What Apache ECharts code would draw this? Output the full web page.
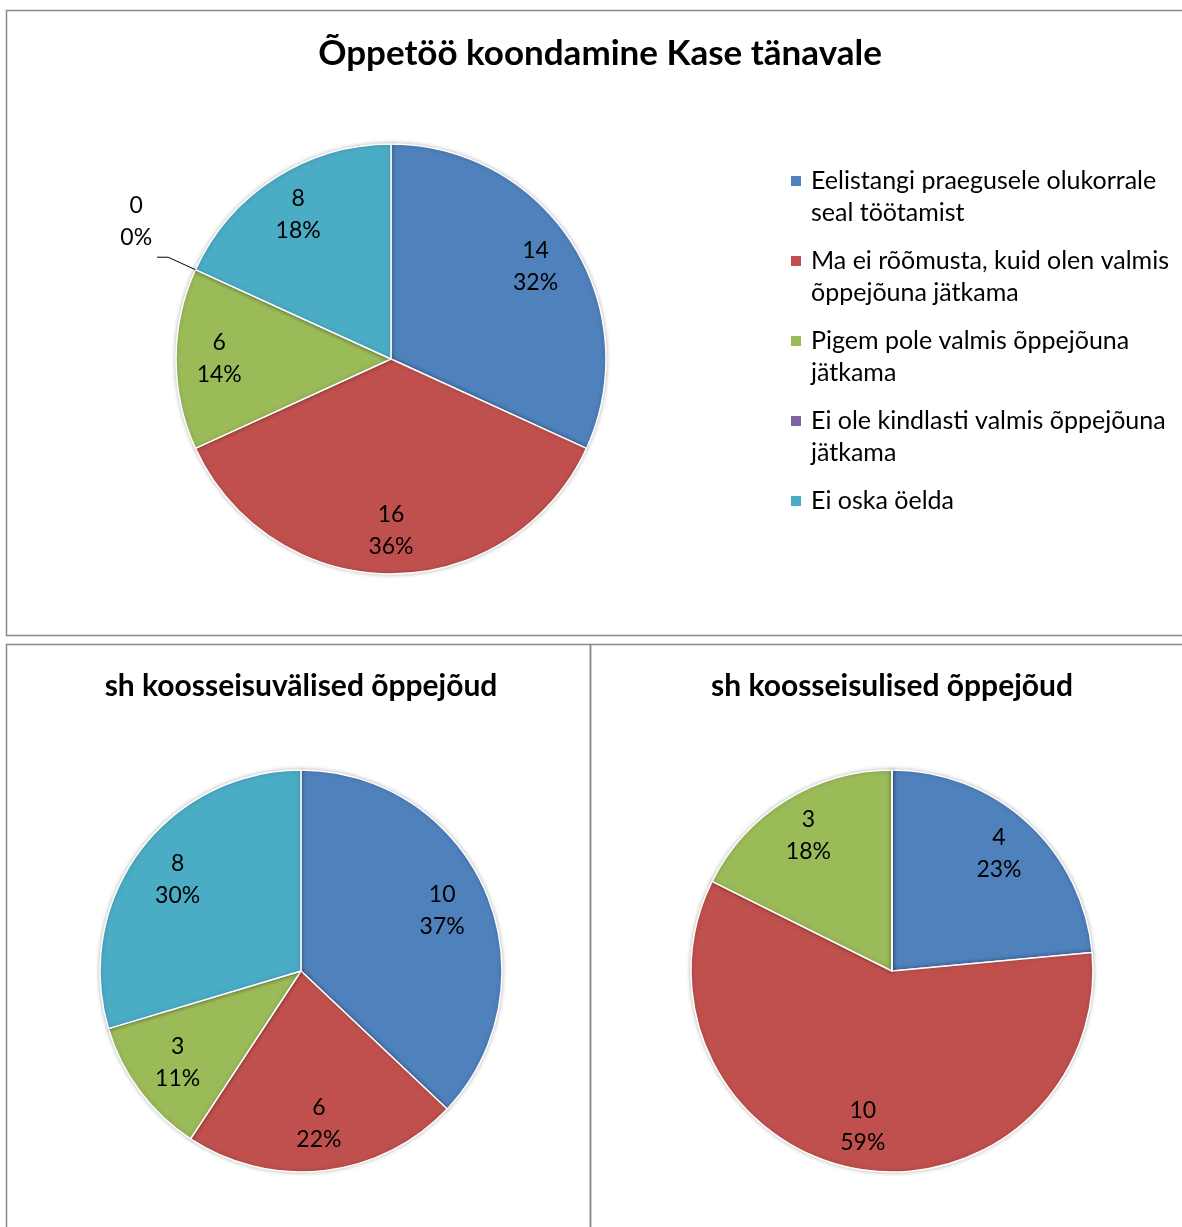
<!DOCTYPE html>
<html>
<head>
<meta charset="utf-8">
<script src="https://cdn.jsdelivr.net/npm/echarts@6/dist/echarts.min.js"></script>
<style>
html,body{margin:0;padding:0;background:#fff;}
#chart{width:1182px;height:1227px;}
</style>
</head>
<body>
<div id="chart"></div>
<script>
// ---- data ----
const categories = [
  'Eelistangi praegusele olukorrale seal töötamist',
  'Ma ei rõõmusta, kuid olen valmis õppejõuna jätkama',
  'Pigem pole valmis õppejõuna jätkama',
  'Ei ole kindlasti valmis õppejõuna jätkama',
  'Ei oska öelda'
];
const legendLines = [
  ['Eelistangi praegusele olukorrale', 'seal töötamist'],
  ['Ma ei rõõmusta, kuid olen valmis', 'õppejõuna jätkama'],
  ['Pigem pole valmis õppejõuna', 'jätkama'],
  ['Ei ole kindlasti valmis õppejõuna', 'jätkama'],
  ['Ei oska öelda']
];
const titles = ['Õppetöö koondamine Kase tänavale', 'sh koosseisuvälised õppejõud', 'sh koosseisulised õppejõud'];
const totalValues = [14, 16, 6, 0, 8];
const externalValues = [10, 6, 3, 0, 8];
const staffValues = [4, 10, 3, 0, 0];

// ---- styles ----
const colors = ['#4F81BD', '#C0504D', '#9BBB59', '#8064A2', '#4BACC6'];
const FONT = 'Lato, "Open Sans", sans-serif';
const LBL = 23;

function makePie(values, center, radius, innerRatio, showZero) {
  const draw = {
    type: 'pie', center: center, radius: radius, startAngle: 90, clockwise: true,
    silent: true, animation: false, z: 2,
    label: {show: false}, labelLine: {show: false},
    itemStyle: {borderColor: '#fff', borderWidth: 1.5, shadowBlur: 4, shadowColor: 'rgba(0,0,0,0.25)'},
    data: categories.map((n, i) => ({name: n, value: values[i], itemStyle: {color: colors[i]}}))
  };
  const labels = {
    type: 'pie', center: center, radius: [radius * innerRatio, radius], startAngle: 90, clockwise: true,
    silent: true, animation: false, z: 3, percentPrecision: 0, avoidLabelOverlap: false,
    itemStyle: {color: 'rgba(0,0,0,0)', borderWidth: 0},
    label: {show: true, position: 'inside', formatter: '{c}\n{d}%', fontFamily: FONT, fontSize: LBL, lineHeight: 32, color: '#000'},
    labelLine: {show: false},
    data: categories.map((n, i) => {
      const d = {name: n, value: values[i]};
      if (values[i] === 0) {
        if (showZero) {
          d.label = {
            show: true, position: 'outside', distanceToLabelLine: 5,
            formatter: p => '{n|' + p.value + '}\n{n|' + p.percent + '%}\n{s| }',
            rich: {
              n: {fontFamily: FONT, fontSize: LBL, lineHeight: 32, color: '#000', align: 'center'},
              s: {fontSize: 10, lineHeight: 72}
            }
          };
          d.labelLine = {show: true, length: 30, length2: 11, lineStyle: {color: '#000', width: 1}};
        } else {
          d.label = {show: false};
        }
      }
      return d;
    })
  };
  return [draw, labels];
}

const chart = echarts.init(document.getElementById('chart'), null, {renderer: 'canvas'});
const borderStyle = {fill: 'none', stroke: '#8a8a8a', lineWidth: 1.5};
chart.setOption({
  backgroundColor: '#fff',
  animation: false,
  title: [
    {text: titles[0], left: 600, top: 54, textAlign: 'center', textVerticalAlign: 'middle', padding: 0,
     textStyle: {fontFamily: FONT, fontWeight: 'bold', fontSize: 35, color: '#000'}},
    {text: titles[1], left: 301, top: 686, textAlign: 'center', textVerticalAlign: 'middle', padding: 0,
     textStyle: {fontFamily: FONT, fontWeight: 'bold', fontSize: 30, color: '#000'}},
    {text: titles[2], left: 892, top: 686, textAlign: 'center', textVerticalAlign: 'middle', padding: 0,
     textStyle: {fontFamily: FONT, fontWeight: 'bold', fontSize: 30, color: '#000'}}
  ],
  legend: {
    orient: 'vertical', left: 789, top: 133, padding: 0, itemGap: -16,
    itemWidth: 12, itemHeight: 12, icon: 'rect', selectedMode: false,
    data: categories.map((n, i) => ({name: n, itemStyle: {color: colors[i]}})),
    formatter: function (name) {
      const lines = legendLines[categories.indexOf(name)].slice();
      while (lines.length < 2) lines.push(' ');
      return [' '].concat(lines).join('\n');
    },
    textStyle: {fontFamily: FONT, fontSize: 25, lineHeight: 32, color: '#000', padding: [0, 0, 0, 4]}
  },
  graphic: [
    {type: 'rect', z: 0, shape: {x: 6.5, y: 10.5, width: 1200, height: 625}, style: borderStyle},
    {type: 'rect', z: 0, shape: {x: 6.5, y: 644.5, width: 584, height: 700}, style: borderStyle},
    {type: 'rect', z: 0, shape: {x: 590.5, y: 644.5, width: 700, height: 700}, style: borderStyle}
  ],
  series: [].concat(
    makePie(totalValues, [391, 359], 215, 0.57, true),
    makePie(externalValues, [301, 971], 201, 0.5, false),
    makePie(staffValues, [892, 971], 201, 0.55, false)
  )
});
</script>
</body>
</html>
